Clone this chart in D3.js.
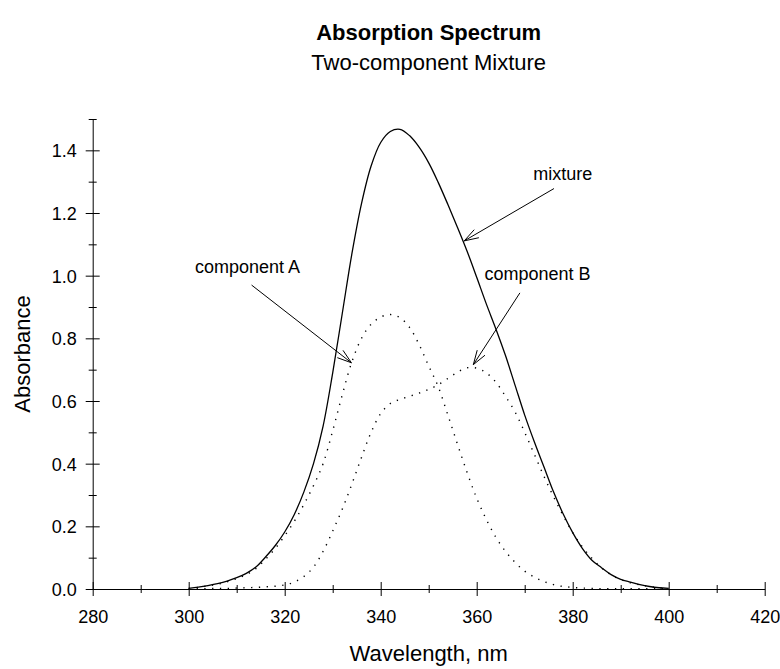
<!DOCTYPE html>
<html>
<head>
<meta charset="utf-8">
<script src="https://cdn.jsdelivr.net/npm/d3@7"></script>
<style>
  body { margin: 0; background: #fff; }
  svg { font-family: "Liberation Sans", Arial, sans-serif; }
</style>
</head>
<body>
<div id="chart"></div>
<script>
// wavelengths, nm (2 nm steps)
const wavelength = d3.range(300, 401, 2)

// absorbance
const mixture = [
  0.002, 0.006, 0.011, 0.017, 0.025, 0.036, 0.050, 0.070, 0.102, 0.138,
  0.182, 0.238, 0.310, 0.400, 0.520, 0.690, 0.880, 1.070, 1.230, 1.350,
  1.425, 1.460, 1.467, 1.447, 1.410, 1.360, 1.297, 1.227, 1.154, 1.078,
  0.995, 0.910, 0.830, 0.745, 0.650, 0.555, 0.470, 0.390, 0.310, 0.240,
  0.180, 0.130, 0.092, 0.068, 0.046, 0.031, 0.022, 0.014, 0.008, 0.004,
  0.002
]
const componentA = [
  0.002, 0.005, 0.010, 0.015, 0.023, 0.033, 0.046, 0.065, 0.095, 0.129,
  0.170, 0.216, 0.270, 0.330, 0.400, 0.505, 0.620, 0.725, 0.800, 0.845,
  0.868, 0.876, 0.866, 0.835, 0.780, 0.712, 0.645, 0.555, 0.462, 0.372,
  0.290, 0.222, 0.165, 0.120, 0.085, 0.057, 0.038, 0.024, 0.014, 0.008,
  0.005, 0.003, 0.002, 0.001, 0.001, 0.001, 0.001, 0.001, 0.001, 0.001,
  0.001
]
const componentB = [
  0.000, 0.001, 0.001, 0.002, 0.002, 0.003, 0.004, 0.005, 0.007, 0.009,
  0.013, 0.022, 0.040, 0.070, 0.120, 0.185, 0.255, 0.335, 0.420, 0.500,
  0.560, 0.592, 0.605, 0.615, 0.625, 0.637, 0.652, 0.672, 0.692, 0.706,
  0.705, 0.690, 0.660, 0.615, 0.565, 0.500, 0.430, 0.360, 0.295, 0.235,
  0.180, 0.135, 0.098, 0.068, 0.045, 0.030, 0.020, 0.013, 0.008, 0.004,
  0.002
]

const xMajor = [280, 300, 320, 340, 360, 380, 400, 420]
const xMinor = [290, 310, 330, 350, 370, 390, 410]
const yMajor = [0, 0.2, 0.4, 0.6, 0.8, 1.0, 1.2, 1.4]
const yMinor = [0.1, 0.3, 0.5, 0.7, 0.9, 1.1, 1.3, 1.5]

// callouts, in data units: label start, line start, arrow tip
const callouts = [
  { text: 'component A', label: [301.3, 1.008], from: [313.1, 0.970], to: [333.9, 0.722] },
  { text: 'mixture', label: [371.8, 1.305], from: [376.1, 1.278], to: [357.4, 1.111] },
  { text: 'component B', label: [361.6, 0.986], from: [369.0, 0.945], to: [359.3, 0.716] }
]

const width = 780
const height = 669

const svg = d3.select('#chart')
  .append('svg')
  .attr('width', width)
  .attr('height', height)

let xScale = d3.scaleLinear()
  .domain([280, 420])
  .range([92.7, 764.7])

let yScale = d3.scaleLinear()
  .domain([0, 1.5])
  .range([589, 119])

// titles
svg.append('text')
  .attr('x', xScale(350))
  .attr('y', 40)
  .attr('text-anchor', 'middle')
  .style('font-size', '22px')
  .style('font-weight', 'bold')
  .text('Absorption Spectrum')

svg.append('text')
  .attr('x', xScale(350))
  .attr('y', 70)
  .attr('text-anchor', 'middle')
  .style('font-size', '22px')
  .text('Two-component Mixture')

// x axis
const xg = svg.append('g').attr('transform', `translate(0,${yScale(0)})`)
xg.call(d3.axisBottom(xScale).tickValues(xMajor).tickSize(7).tickSizeOuter(0).tickFormat(d3.format('d')))
xg.append('g')
  .call(d3.axisBottom(xScale).tickValues(xMinor).tickSize(4).tickSizeOuter(0).tickFormat(''))
  .select('.domain').remove()
xg.selectAll('.tick line').attr('y1', function () { return -d3.select(this).attr('y2') })
xg.selectAll('.tick text').attr('y', 34).attr('dy', 0).style('font-size', '18px')

// y axis
const yg = svg.append('g').attr('transform', `translate(${xScale(280)},0)`)
yg.call(d3.axisLeft(yScale).tickValues(yMajor).tickSize(7).tickSizeOuter(0).tickFormat(d3.format('.1f')))
yg.append('g')
  .call(d3.axisLeft(yScale).tickValues(yMinor).tickSize(4).tickSizeOuter(0).tickFormat(''))
  .select('.domain').remove()
yg.selectAll('.tick line').attr('x1', function () { return -d3.select(this).attr('x2') })
yg.selectAll('.tick text').attr('x', -16).attr('dy', '0.36em').style('font-size', '18px')

svg.selectAll('.domain, .tick line').attr('stroke', '#000')
svg.selectAll('.tick text').attr('fill', '#000').style('font-family', '"Liberation Sans", Arial, sans-serif')

// axis titles
svg.append('text')
  .attr('x', xScale(350))
  .attr('y', 661)
  .attr('text-anchor', 'middle')
  .style('font-size', '22px')
  .text('Wavelength, nm')

svg.append('text')
  .attr('transform', `translate(30,${yScale(0.75)}) rotate(-90)`)
  .attr('text-anchor', 'middle')
  .style('font-size', '22px')
  .text('Absorbance')

// curves
const line = d3.line()
  .x(d => xScale(d[0]))
  .y(d => yScale(d[1]))
  .curve(d3.curveCatmullRom.alpha(0.5))

const series = [
  { values: componentA, dash: '1.3,6.5' },
  { values: componentB, dash: '1.3,6.5' },
  { values: mixture, dash: null }
]

svg.selectAll('path.curve')
  .data(series)
  .enter()
  .append('path')
  .attr('class', 'curve')
  .attr('fill', 'none')
  .attr('stroke', '#000')
  .attr('stroke-width', d => d.dash ? 1.4 : 1.3)
  .attr('stroke-dasharray', d => d.dash)
  .attr('d', d => line(wavelength.map((w, i) => [w, d.values[i]])))

// callouts with open arrowheads
const headLen = 15
const headAngle = 18 * Math.PI / 180

callouts.forEach(c => {
  const x0 = xScale(c.from[0]), y0 = yScale(c.from[1])
  const x1 = xScale(c.to[0]), y1 = yScale(c.to[1])
  const a = Math.atan2(y0 - y1, x0 - x1)

  svg.append('text')
    .attr('x', xScale(c.label[0]))
    .attr('y', yScale(c.label[1]))
    .style('font-size', '18px')
    .text(c.text)

  svg.append('line')
    .attr('x1', x0).attr('y1', y0)
    .attr('x2', x1).attr('y2', y1)
    .attr('stroke', '#000')

  svg.append('path')
    .attr('fill', 'none')
    .attr('stroke', '#000')
    .attr('d', `M${x1 + headLen * Math.cos(a + headAngle)},${y1 + headLen * Math.sin(a + headAngle)}` +
      `L${x1},${y1}L${x1 + headLen * Math.cos(a - headAngle)},${y1 + headLen * Math.sin(a - headAngle)}`)
})
</script>
</body>
</html>
